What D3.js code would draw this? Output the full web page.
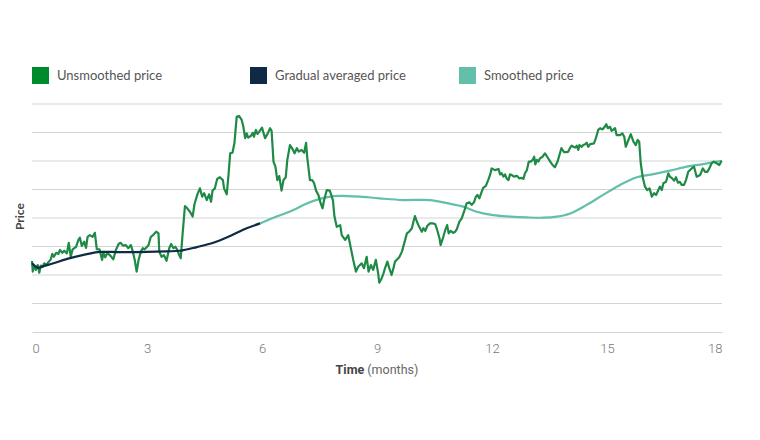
<!DOCTYPE html>
<html>
<head>
<meta charset="utf-8">
<script src="https://cdn.jsdelivr.net/npm/d3@7"></script>
<style>
  body { margin: 0; background: #fff; }
  svg { display: block; font-family: Lato, "Noto Sans", sans-serif; }
</style>
</head>
<body>
<svg id="chart"></svg>
<script>
// Values: [month, price] (price in gridline units)
const unsmoothed = [
  [0,2.49],[0.02,2.12],[0.06,2.33],[0.10,2.18],[0.15,2.35],[0.19,2.08],[0.23,2.33],[0.28,2.29],[0.32,2.41],[0.37,2.35],
  [0.43,2.45],[0.49,2.55],[0.53,2.74],[0.57,2.64],[0.63,2.78],[0.69,2.74],[0.73,2.88],[0.79,2.78],[0.84,2.85],[0.91,2.76],
  [0.96,3.13],[1.01,2.64],[1.06,2.90],[1.15,2.99],[1.21,3.23],[1.25,3.31],[1.30,3.02],[1.36,3.17],[1.41,2.95],[1.45,3.34],
  [1.51,3.40],[1.58,3.34],[1.64,3.48],[1.69,2.91],[1.76,2.90],[1.83,2.53],[1.86,2.78],[1.91,2.62],[1.96,2.76],[2.03,2.70],
  [2.12,2.55],[2.19,2.88],[2.26,3.09],[2.31,3.13],[2.38,3.03],[2.45,3.05],[2.51,2.94],[2.58,3.05],[2.63,2.82],[2.68,2.53],
  [2.73,2.12],[2.78,2.53],[2.84,2.82],[2.89,2.94],[2.94,2.90],[2.99,2.97],[3.04,3.05],[3.10,3.34],[3.16,3.40],[3.24,3.52],
  [3.30,3.46],[3.32,2.82],[3.38,2.64],[3.44,2.70],[3.51,2.50],[3.58,2.94],[3.63,3.09],[3.69,2.94],[3.74,2.99],[3.79,2.88],
  [3.84,2.70],[3.88,2.59],[3.93,3.46],[3.99,4.42],[4.05,4.34],[4.12,4.22],[4.19,4.05],[4.24,4.49],[4.31,4.81],[4.38,5.04],
  [4.44,4.75],[4.49,4.87],[4.56,4.63],[4.62,4.83],[4.67,4.57],[4.71,4.96],[4.77,5.04],[4.83,5.37],[4.90,5.43],[4.98,5.33],
  [5.01,5.04],[5.08,4.83],[5.13,5.57],[5.17,6.27],[5.23,6.29],[5.28,6.62],[5.34,7.55],[5.40,7.58],[5.47,7.44],[5.51,7.23],
  [5.56,6.80],[5.60,6.97],[5.64,6.82],[5.71,6.88],[5.76,6.99],[5.79,6.85],[5.84,7.09],[5.88,6.95],[5.93,7.03],[6.00,7.17],
  [6.08,6.80],[6.15,6.97],[6.21,7.15],[6.25,7.06],[6.30,5.98],[6.35,5.80],[6.40,5.33],[6.45,5.47],[6.51,4.96],[6.56,5.33],
  [6.62,5.43],[6.66,6.04],[6.73,6.56],[6.80,6.41],[6.85,6.27],[6.91,6.45],[6.96,6.33],[7.03,6.39],[7.10,6.29],[7.15,6.64],
  [7.18,6.13],[7.25,5.33],[7.31,5.33],[7.36,5.22],[7.41,4.96],[7.47,4.81],[7.53,4.52],[7.58,4.34],[7.62,4.63],[7.69,4.98],
  [7.77,4.96],[7.85,4.63],[7.89,4.05],[7.95,3.69],[8.04,3.75],[8.08,3.40],[8.17,3.23],[8.25,3.40],[8.31,2.99],[8.38,2.53],
  [8.45,2.12],[8.51,2.29],[8.60,2.41],[8.66,2.24],[8.73,2.64],[8.78,2.12],[8.84,2.35],[8.90,2.18],[8.97,2.53],[9.03,2.06],
  [9.06,1.73],[9.12,1.88],[9.17,2.06],[9.21,2.24],[9.27,2.47],[9.32,2.24],[9.38,2.00],[9.43,2.24],[9.47,2.47],[9.53,2.55],
  [9.58,2.62],[9.65,2.82],[9.71,3.11],[9.78,3.46],[9.84,3.52],[9.91,3.64],[9.95,3.87],[9.99,4.07],[10.05,3.84],[10.10,3.69],
  [10.17,3.52],[10.21,3.64],[10.26,3.55],[10.31,3.72],[10.38,3.81],[10.47,3.81],[10.52,3.78],[10.57,3.58],[10.63,3.29],[10.66,3.05],
  [10.73,3.34],[10.78,3.58],[10.83,3.75],[10.87,3.46],[10.92,3.55],[10.99,3.48],[11.04,3.52],[11.08,3.60],[11.15,3.87],[11.21,3.99],
  [11.27,4.22],[11.34,4.52],[11.41,4.55],[11.47,4.46],[11.53,4.55],[11.58,4.75],[11.62,4.81],[11.67,4.69],[11.73,4.92],[11.77,5.06],
  [11.84,5.13],[11.90,5.33],[11.95,5.51],[11.99,5.74],[12.08,5.68],[12.17,5.72],[12.21,5.53],[12.25,5.57],[12.30,5.45],[12.34,5.53],
  [12.38,5.39],[12.43,5.33],[12.47,5.53],[12.51,5.51],[12.57,5.45],[12.65,5.48],[12.71,5.39],[12.78,5.41],[12.82,5.37],[12.86,5.57],
  [12.91,5.68],[12.96,5.98],[13.01,5.98],[13.06,6.04],[13.10,6.15],[13.13,5.88],[13.17,6.04],[13.21,5.98],[13.25,6.09],[13.32,6.15],
  [13.38,6.27],[13.44,6.15],[13.52,5.98],[13.58,5.86],[13.64,5.78],[13.71,5.98],[13.76,6.21],[13.81,6.45],[13.88,6.31],[13.95,6.31],
  [13.99,6.33],[14.04,6.47],[14.08,6.54],[14.12,6.50],[14.17,6.47],[14.21,6.54],[14.25,6.39],[14.28,6.56],[14.34,6.50],[14.38,6.56],
  [14.43,6.59],[14.47,6.64],[14.51,6.50],[14.56,6.59],[14.63,6.61],[14.66,6.62],[14.71,6.80],[14.77,7.09],[14.82,7.15],[14.88,7.11],
  [14.93,7.18],[14.98,7.29],[15.02,7.15],[15.08,7.20],[15.12,7.06],[15.17,7.11],[15.21,7.15],[15.25,6.91],[15.34,6.91],[15.40,6.97],
  [15.45,6.85],[15.49,6.50],[15.56,6.74],[15.62,6.94],[15.69,6.68],[15.75,6.56],[15.80,6.74],[15.84,6.68],[15.88,5.92],[15.93,5.45],
  [15.99,5.10],[16.05,4.98],[16.11,5.04],[16.17,4.75],[16.23,4.87],[16.28,4.81],[16.34,4.98],[16.38,5.10],[16.43,4.98],[16.47,5.22],
  [16.54,5.27],[16.60,5.57],[16.64,5.45],[16.70,5.39],[16.75,5.31],[16.80,5.43],[16.85,5.24],[16.90,5.27],[16.95,5.16],[17.01,5.16],
  [17.06,5.33],[17.12,5.62],[17.21,5.74],[17.27,5.80],[17.34,5.45],[17.43,5.51],[17.50,5.74],[17.56,5.62],[17.62,5.62],[17.67,5.74],
  [17.73,5.92],[17.78,5.98],[17.86,5.92],[17.93,5.86],[17.99,6.01]
];

const gradual = [
  [0,2.41],[0.16,2.25],[0.30,2.31],[0.56,2.41],[0.99,2.59],[1.43,2.73],[1.77,2.81],[2.30,2.80],[2.99,2.81],
  [3.51,2.83],[3.86,2.85],[4.30,2.98],[4.73,3.13],[5.17,3.37],[5.60,3.64],[5.95,3.81]
];

const smoothed = [
  [5.95,3.81],[6.38,4.05],[6.82,4.28],[7.17,4.51],[7.51,4.67],[7.86,4.77],[8.21,4.77],[8.56,4.75],[9.06,4.69],
  [9.69,4.63],[10.38,4.63],[10.82,4.52],[11.25,4.40],[11.60,4.22],[12.03,4.10],[12.47,4.05],[12.91,4.02],
  [13.34,4.01],[13.69,4.05],[14.04,4.16],[14.47,4.46],[14.90,4.81],[15.34,5.16],[15.78,5.43],[16.21,5.54],
  [16.64,5.66],[17.08,5.80],[17.51,5.89],[17.86,5.98],[18,6.00]
];

const xTicks = [0, 3, 6, 9, 12, 15, 18];
const gridValues = [1, 2, 3, 4, 5, 6, 7, 8];
const legendItems = [
  { name: "Unsmoothed price", color: "#008a2e" },
  { name: "Gradual averaged price", color: "#0f2a44" },
  { name: "Smoothed price", color: "#62bfa9" }
];

const width = 760;
const height = 440;
const marginLeft = 32;
const marginRight = 38;
const plotTop = 104;
const plotBottom = 332;

const svg = d3.select("#chart")
    .attr("width", width)
    .attr("height", height)
    .attr("viewBox", [0, 0, width, height]);

const x = d3.scaleLinear()
    .domain([0, 18])
    .range([marginLeft, width - marginRight]);

const y = d3.scaleLinear()
    .domain([0, 8])
    .range([plotBottom, plotTop]);

// Gridlines
svg.append("g")
    .selectAll("line")
    .data(gridValues)
    .join("line")
      .attr("x1", x(0))
      .attr("x2", x(18))
      .attr("y1", d => y(d))
      .attr("y2", d => y(d))
      .attr("stroke", "#d4d4d4")
      .attr("stroke-width", 1);

// x axis
const xAxis = svg.append("g")
    .attr("transform", `translate(0,${plotBottom})`)
    .call(d3.axisBottom(x).tickValues(xTicks).tickSize(0).tickPadding(12));

xAxis.select(".domain").attr("stroke", "#d4d4d4");
xAxis.selectAll("text")
    .attr("fill", "#777")
    .style("font-family", "Roboto, sans-serif")
    .style("font-weight", "300")
    .style("font-size", "13px")
    .attr("text-anchor", (d, i) => i === 0 ? "start" : (i === xTicks.length - 1 ? "end" : "middle"));

// Axis titles
const xTitle = svg.append("text")
    .attr("x", x(9))
    .attr("y", 374)
    .attr("text-anchor", "middle")
    .attr("fill", "#444")
    .style("font-family", "Roboto, sans-serif")
    .style("font-size", "12.5px");
xTitle.append("tspan").attr("font-weight", "bold").text("Time");
xTitle.append("tspan").attr("fill", "#666").text(" (months)");

svg.append("text")
    .attr("transform", `translate(24,${y(4.05)}) rotate(-90)`)
    .attr("text-anchor", "middle")
    .attr("fill", "#444")
    .attr("font-weight", "bold")
    .style("font-size", "12px")
    .text("Price");

// Lines
const line = d3.line()
    .x(d => x(d[0]))
    .y(d => y(d[1]));

const smoothLine = d3.line()
    .x(d => x(d[0]))
    .y(d => y(d[1]))
    .curve(d3.curveCatmullRom.alpha(0.5));

svg.append("path")
    .datum(smoothed)
    .attr("fill", "none")
    .attr("stroke", "#62bfa9")
    .attr("stroke-width", 2.2)
    .attr("d", smoothLine);

svg.append("path")
    .datum(unsmoothed)
    .attr("fill", "none")
    .attr("stroke", "#1e8a46")
    .attr("stroke-width", 2.2)
    .attr("stroke-linejoin", "round")
    .attr("d", line);

svg.append("path")
    .datum(gradual)
    .attr("fill", "none")
    .attr("stroke", "#0f2a44")
    .attr("stroke-width", 2.2)
    .attr("d", smoothLine);

// Legend
const legendX = [32, 250, 459];
const legend = svg.append("g")
    .selectAll("g")
    .data(legendItems)
    .join("g")
      .attr("transform", (d, i) => `translate(${legendX[i]},67)`);

legend.append("rect")
    .attr("width", 17)
    .attr("height", 17)
    .attr("fill", d => d.color);

legend.append("text")
    .attr("x", 25)
    .attr("y", 13)
    .attr("fill", "#555")
    .style("font-size", "13px")
    .text(d => d.name);
</script>
</body>
</html>
